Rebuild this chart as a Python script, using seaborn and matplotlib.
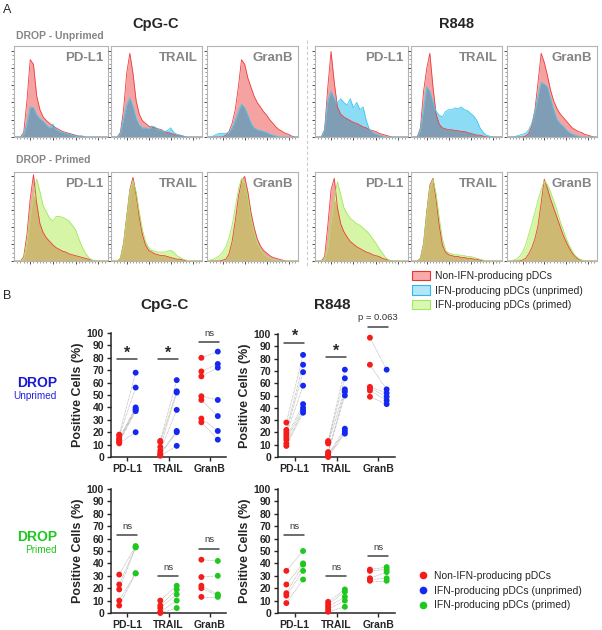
import numpy as np
import pandas as pd
import matplotlib
matplotlib.use("Agg")
import matplotlib.pyplot as plt
import seaborn as sns
from matplotlib.patches import Patch
from matplotlib.lines import Line2D

sns.set_style("ticks")
plt.rcParams['font.family'] = ['Liberation Sans', 'DejaVu Sans']

markers = ["PD-L1", "TRAIL", "GranB"]

# ---- Panel A: histogram heights (% of modal), one value per bin ----
cpgc_unp_pdl1_neg = [0,0,0,5,40,85,80,45,30,22,18,15,12,10,8,6,5,4,3,2,1,1,0,0,0,0,0,0,0,0]
cpgc_unp_pdl1_pos = [0,0,0,3,15,33,32,24,20,17,13,10,14,8,6,5,4,3,2,1,1,1,0,0,0,0,0,0,0,0]
cpgc_unp_trail_neg = [0,0,0,5,30,70,92,70,40,25,18,15,12,11,10,9,8,6,5,4,3,2,2,1,0,0,0,0,0,0]
cpgc_unp_trail_pos = [0,0,0,4,20,35,43,33,20,13,10,10,9,12,11,8,7,6,7,10,5,3,2,1,0,0,0,0,0,0]
cpgc_unp_granb_neg = [0,0,0,0,0,0,2,6,15,30,55,85,80,65,55,45,38,33,28,24,19,15,11,8,6,4,3,1,0,0]
cpgc_unp_granb_pos = [0,0,1,3,4,4,4,5,10,18,28,36,32,24,15,10,8,7,6,5,3,2,1,0,0,0,0,0,0,0]
r848_unp_pdl1_neg = [0,0,0,8,55,94,60,33,25,22,20,18,16,15,13,11,10,8,7,6,4,3,2,1,0,0,0,0,0,0]
r848_unp_pdl1_pos = [0,0,0,8,40,50,42,38,42,38,35,42,32,38,30,33,18,8,5,3,2,1,0,0,0,0,0,0,0,0]
r848_unp_trail_neg = [0,0,0,10,50,75,92,55,25,14,10,9,8,8,7,7,6,6,5,4,3,2,2,1,0,0,0,0,0,0]
r848_unp_trail_pos = [0,0,0,8,30,55,50,38,28,24,22,28,30,30,32,31,33,30,29,26,23,18,10,5,2,1,0,0,0,0]
r848_unp_granb_neg = [0,0,0,0,0,0,1,4,12,30,60,92,82,68,52,40,32,26,22,18,14,10,8,6,5,3,2,1,0,0]
r848_unp_granb_pos = [0,0,0,1,2,3,4,8,15,28,45,60,58,55,42,30,20,15,12,8,5,3,2,1,0,0,0,0,0,0]

cpgc_pri_pdl1_neg = [0,0,0,5,30,70,97,65,42,32,26,22,18,15,13,11,10,8,7,6,5,4,3,2,1,0,0,0,0,0]
cpgc_pri_pdl1_pos = [0,0,0,3,20,50,75,92,78,62,55,48,45,50,50,49,47,45,40,35,25,16,9,4,1,0,0,0,0,0]
cpgc_pri_trail_neg = [0,0,0,3,20,50,80,94,75,50,30,18,12,10,8,7,6,6,5,4,3,2,2,1,0,0,0,0,0,0]
cpgc_pri_trail_pos = [0,0,0,3,18,48,78,90,78,55,35,22,15,12,11,10,10,10,11,12,10,6,4,2,1,0,0,0,0,0]
cpgc_pri_granb_neg = [0,0,0,0,0,1,2,8,22,45,72,90,95,78,55,38,25,17,12,9,6,4,3,2,1,0,0,0,0,0]
cpgc_pri_granb_pos = [0,1,2,4,6,10,16,26,40,60,80,93,88,70,48,32,20,13,8,5,3,2,1,0,0,0,0,0,0,0]
r848_pri_pdl1_neg = [0,0,0,5,40,80,93,60,42,33,27,22,19,16,14,12,10,9,7,6,5,3,2,1,0,0,0,0,0,0]
r848_pri_pdl1_pos = [0,0,0,2,15,45,70,89,75,60,53,48,45,42,40,37,34,30,25,20,14,9,4,1,0,0,0,0,0,0]
r848_pri_trail_neg = [0,0,0,3,20,55,85,93,70,40,18,10,7,6,5,5,4,4,3,3,2,2,1,0,0,0,0,0,0,0]
r848_pri_trail_pos = [0,0,0,3,18,52,82,92,75,48,25,12,9,8,7,7,6,6,5,5,4,3,2,1,0,0,0,0,0,0]
r848_pri_granb_neg = [0,0,0,0,0,1,3,8,15,25,40,65,92,82,70,60,50,40,30,22,15,9,5,2,1,0,0,0,0,0]
r848_pri_granb_pos = [0,0,1,2,5,10,18,30,42,55,68,80,90,86,78,68,58,46,36,26,18,11,6,3,1,0,0,0,0,0]

# ---- Panel B: % positive cells per donor ----
cpgc_unp_neg = [[18, 17, 15, 14, 13, 12, 11], [13, 12, 8, 5, 3, 2, 1], [80, 69, 65, 49, 46, 31, 28]]
cpgc_unp_pos = [[68, 56, 40, 39, 38, 37, 20], [62, 53, 52, 38, 21, 20, 9], [85, 75, 72, 46, 33, 21, 14]]
r848_unp_neg = [[28, 22, 20, 18, 16, 14, 11, 9], [13, 12, 11, 4, 3, 2, 1, 0], [97, 75, 57, 56, 54, 49]]
r848_unp_pos = [[83, 75, 69, 58, 43, 40, 38, 36], [71, 64, 55, 53, 50, 23, 21, 19], [71, 55, 52, 49, 46, 43]]
cpgc_pri_neg = [[31, 23, 19, 10, 6], [10, 6, 4, 1, 0], [43, 29, 22, 20, 13]]
cpgc_pri_pos = [[54, 53, 53, 32, 32], [22, 19, 15, 10, 4], [42, 30, 15, 14, 13]]
r848_pri_neg = [[34, 23, 16, 14, 8], [9, 7, 5, 3, 1], [35, 34, 28, 27, 26]]
r848_pri_pos = [[50, 40, 39, 34, 27], [19, 17, 13, 10, 5], [37, 35, 33, 28, 26]]

cpgc_unp_sig = [("*", 79), ("*", 79), ("ns", 93)]
r848_unp_sig = [("*", 93), ("*", 81), ("p = 0.063", 106)]
cpgc_pri_sig = [("ns", 63), ("ns", 30), ("ns", 52)]
r848_pri_sig = [("ns", 63), ("ns", 30), ("ns", 46)]

NEG_FILL, NEG_EDGE = '#f4a2a2', '#f03c3c'
UNP_FILL, UNP_EDGE = '#8ddcf5', '#3cc8f0'
PRI_FILL, PRI_EDGE = '#d6f5a6', '#a0e860'
OVL_UNP, OVL_PRI = '#7f9db4', '#cdb972'
RED, BLUE, GREEN = '#f51c1c', '#1428f0', '#1ec81e'
GREY_TXT = '#858585'

W, H = 602, 630
fig = plt.figure(figsize=(W / 100, H / 100), dpi=100)


def rect(x0, y0, x1, y1):
    return [x0 / W, 1 - y1 / H, (x1 - x0) / W, (y1 - y0) / H]


def draw_hist(ax, neg, pos, pos_fill, pos_edge, ovl, label):
    x = np.arange(len(neg))
    neg = np.array(neg)
    pos = np.array(pos)
    ax.fill_between(x, neg, color=NEG_FILL, lw=0)
    ax.fill_between(x, pos, color=pos_fill, lw=0)
    ax.fill_between(x, np.minimum(neg, pos), color=ovl, lw=0)
    ax.plot(x, neg, color=NEG_EDGE, lw=0.6)
    ax.plot(x, pos, color=pos_edge, lw=0.6)
    ax.set_xlim(0, len(neg) - 1)
    ax.set_ylim(0, 100)
    ax.set_yticks(np.linspace(0, 95, 6))
    ax.set_yticks(np.linspace(0, 95, 21), minor=True)
    ax.set_xticks([5, 12, 19, 26])
    ax.set_xticks(np.arange(1, 29, 1), minor=True)
    ax.tick_params(which='major', length=2.5, width=0.6, color='#333333', labelleft=False, labelbottom=False)
    ax.tick_params(which='minor', length=1.2, width=0.4, color='#555555')
    for s in ax.spines.values():
        s.set_color('#b4b4b4')
        s.set_linewidth(0.8)
    ax.text(0.95, 0.93, label, transform=ax.transAxes, ha='right', va='top',
            fontsize=9.5, fontweight='bold', color=GREY_TXT)


hist_cols = [(14, 108), (111, 202), (207, 298), (315, 408), (411, 502), (507, 597)]
row1 = [(cpgc_unp_pdl1_neg, cpgc_unp_pdl1_pos), (cpgc_unp_trail_neg, cpgc_unp_trail_pos),
        (cpgc_unp_granb_neg, cpgc_unp_granb_pos), (r848_unp_pdl1_neg, r848_unp_pdl1_pos),
        (r848_unp_trail_neg, r848_unp_trail_pos), (r848_unp_granb_neg, r848_unp_granb_pos)]
row2 = [(cpgc_pri_pdl1_neg, cpgc_pri_pdl1_pos), (cpgc_pri_trail_neg, cpgc_pri_trail_pos),
        (cpgc_pri_granb_neg, cpgc_pri_granb_pos), (r848_pri_pdl1_neg, r848_pri_pdl1_pos),
        (r848_pri_trail_neg, r848_pri_trail_pos), (r848_pri_granb_neg, r848_pri_granb_pos)]

for k, (x0, x1) in enumerate(hist_cols):
    ax = fig.add_axes(rect(x0, 46, x1, 137))
    draw_hist(ax, *row1[k], UNP_FILL, UNP_EDGE, OVL_UNP, markers[k % 3])
    ax = fig.add_axes(rect(x0, 172, x1, 261))
    draw_hist(ax, *row2[k], PRI_FILL, PRI_EDGE, OVL_PRI, markers[k % 3])


def draw_scatter(ax, neg, pos, pos_color, sig):
    rows = []
    for i in range(3):
        rows += [(i - 0.2, v, 'neg') for v in neg[i]]
        rows += [(i + 0.2, v, 'pos') for v in pos[i]]
        a = sorted(neg[i], reverse=True)
        b = sorted(pos[i], reverse=True)
        for va, vb in zip(a, b):
            ax.plot([i - 0.2, i + 0.2], [va, vb], ls=(0, (1, 1)), lw=0.5, color='#a0a0a0', zorder=1)
    df = pd.DataFrame(rows, columns=['x', 'y', 'g'])
    sns.scatterplot(data=df, x='x', y='y', hue='g', palette={'neg': RED, 'pos': pos_color},
                    s=18, edgecolor='none', legend=False, ax=ax, zorder=3, clip_on=False)
    for i, (txt, yb) in enumerate(sig):
        ax.plot([i - 0.25, i + 0.23], [yb, yb], color='#444444', lw=1.1, clip_on=False)
        if txt == "*":
            ax.annotate(txt, (i, yb), xytext=(0, -1), textcoords='offset points', ha='center',
                        va='bottom', fontsize=11.5, fontweight='bold', annotation_clip=False)
        else:
            ax.annotate(txt, (i, yb), xytext=(0, 3), textcoords='offset points', ha='center',
                        va='bottom', fontsize=6.8, color='#333333', annotation_clip=False)
    ax.set_xlim(-0.4, 2.4)
    ax.set_ylim(0, 100)
    ax.set_yticks(range(0, 101, 10))
    ax.set_xticks([0, 1, 2])
    ax.set_xticklabels(markers)
    ax.set_xlabel('')
    ax.set_ylabel('Positive Cells (%)', fontsize=9, fontweight='bold', labelpad=2)
    ax.tick_params(length=3, width=1, labelsize=7.5, pad=2)
    for t in ax.get_xticklabels() + ax.get_yticklabels():
        t.set_fontweight('bold')
    sns.despine(ax=ax)
    for s in ['left', 'bottom']:
        ax.spines[s].set_linewidth(1.1)


ax = fig.add_axes(rect(111, 333, 226, 457))
draw_scatter(ax, cpgc_unp_neg, cpgc_unp_pos, BLUE, cpgc_unp_sig)
ax = fig.add_axes(rect(278, 334, 395, 457))
draw_scatter(ax, r848_unp_neg, r848_unp_pos, BLUE, r848_unp_sig)
ax = fig.add_axes(rect(111, 489, 226, 613))
draw_scatter(ax, cpgc_pri_neg, cpgc_pri_pos, GREEN, cpgc_pri_sig)
ax = fig.add_axes(rect(278, 489, 395, 613))
draw_scatter(ax, r848_pri_neg, r848_pri_pos, GREEN, r848_pri_sig)


# ---- texts ----
def ftext(x, y, s, **kw):
    fig.text(x / W, 1 - y / H, s, **kw)


ftext(3, 10, "A", fontsize=9, va='center')
ftext(156, 24, "CpG-C", fontsize=10.5, fontweight='bold', ha='center', va='center')
ftext(457, 24, "R848", fontsize=10.5, fontweight='bold', ha='center', va='center')
ftext(16, 36, "DROP - Unprimed", fontsize=7.5, fontweight='bold', color=GREY_TXT, va='center')
ftext(16, 160, "DROP - Primed", fontsize=7.5, fontweight='bold', color=GREY_TXT, va='center')
ftext(3, 296, "B", fontsize=9, va='center')
ftext(165, 305, "CpG-C", fontsize=11, fontweight='bold', ha='center', va='center')
ftext(332, 305, "R848", fontsize=11, fontweight='bold', ha='center', va='center')
ftext(57, 383, "DROP", fontsize=10, fontweight='bold', color='#1a1ad2', ha='right', va='center')
ftext(57, 396, "Unprimed", fontsize=7.2, color='#2222dd', ha='right', va='center')
ftext(57, 537, "DROP", fontsize=10, fontweight='bold', color='#1ec81e', ha='right', va='center')
ftext(57, 550, "Primed", fontsize=7.2, color='#1ec81e', ha='right', va='center')

fig.add_artist(Line2D([307 / W, 307 / W], [1 - 40 / H, 1 - 268 / H], color='#cccccc',
                      lw=0.8, ls=(0, (3, 2))))

leg_labels = ["Non-IFN-producing pDCs", "IFN-producing pDCs (unprimed)", "IFN-producing pDCs (primed)"]
patch_handles = [Patch(facecolor='#f7aaaa', edgecolor='#ee3030', lw=0.8),
                 Patch(facecolor='#b4e6f8', edgecolor='#30b8ee', lw=0.8),
                 Patch(facecolor='#daf8b4', edgecolor='#a0ea60', lw=0.8)]
fig.legend(patch_handles, leg_labels, loc='upper left', bbox_to_anchor=(412 / W, 1 - 271 / H),
           frameon=False, fontsize=7.5, handlelength=1.75, handleheight=1.0, handletextpad=0.5,
           labelspacing=0.4, borderpad=0, borderaxespad=0)
dot_handles = [Line2D([], [], ls='none', marker='o', markersize=5.5, color=c, markeredgewidth=0)
               for c in [RED, BLUE, GREEN]]
fig.legend(dot_handles, leg_labels, loc='upper left', bbox_to_anchor=(418 / W, 1 - 571 / H),
           frameon=False, fontsize=7.5, handlelength=1.0, handletextpad=0.5,
           labelspacing=0.45, borderpad=0, borderaxespad=0)

fig.savefig("out.png", dpi=100)
